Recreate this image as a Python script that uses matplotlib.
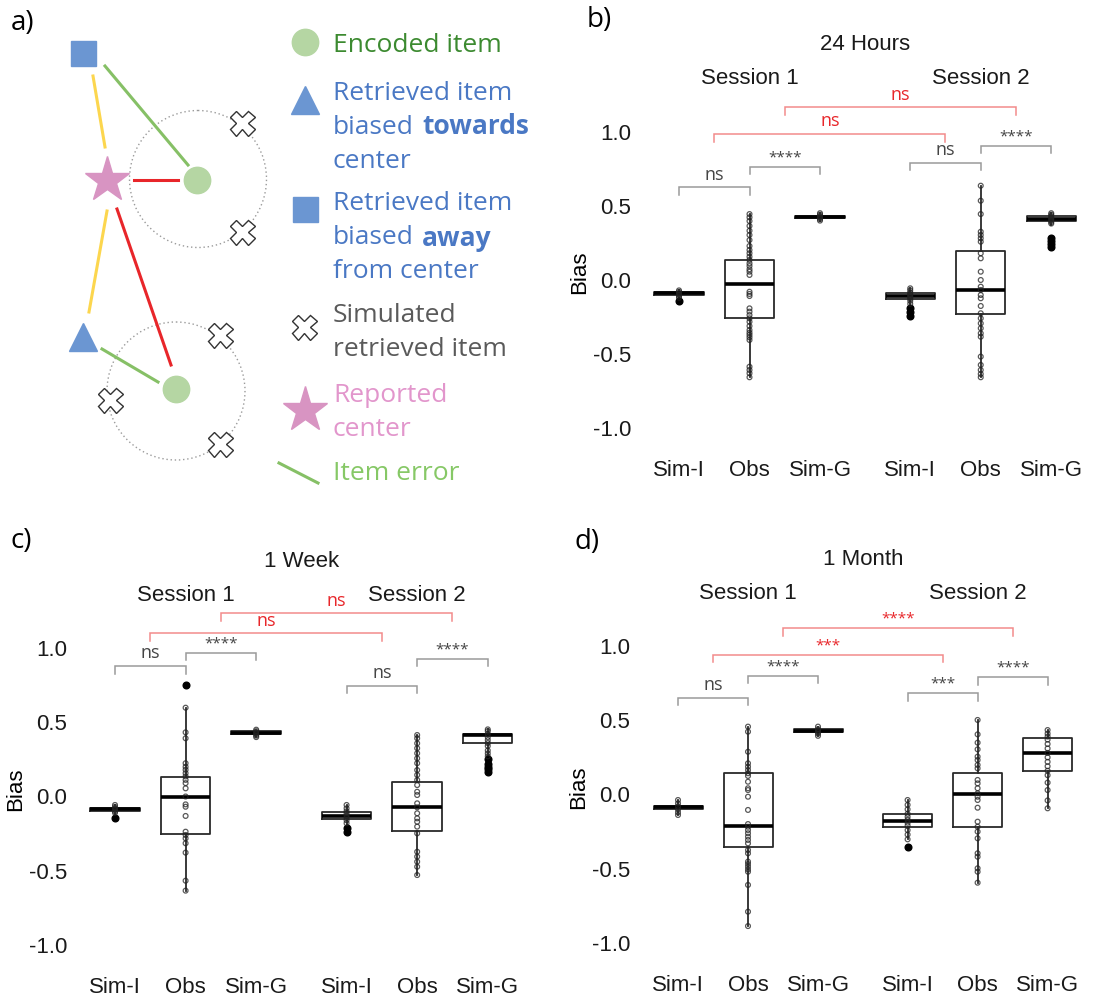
import numpy as np
import matplotlib
matplotlib.use("Agg")
import matplotlib.pyplot as plt
from matplotlib.patches import Circle

W, H = 1115, 999

groups = ["Sim-I", "Obs", "Sim-G", "Sim-I", "Obs", "Sim-G"]
sessions = ["Session 1", "Session 2"]
titles = ["24 Hours", "1 Week", "1 Month"]

# box statistics, order: Sim-I, Obs, Sim-G (session 1), Sim-I, Obs, Sim-G (session 2)
h24_med = [-0.090, -0.027, 0.425, -0.105, -0.067, 0.410]
h24_q1 = [-0.099, -0.258, 0.416, -0.126, -0.231, 0.400]
h24_q3 = [-0.081, 0.135, 0.434, -0.085, 0.197, 0.428]
h24_lo = [-0.120, -0.655, 0.395, -0.160, -0.655, 0.370]
h24_hi = [-0.070, 0.444, 0.450, -0.056, 0.635, 0.450]
h24_out = [[-0.14], [], [], [-0.19, -0.215, -0.24], [], [0.285, 0.26, 0.24, 0.224]]
h24_pts = [
    [-0.07, -0.08, -0.09, -0.10, -0.11, -0.12],
    [0.444, 0.422, 0.397, 0.364, 0.332, 0.303, 0.269, 0.229, 0.202, 0.18, 0.157,
     0.135, 0.112, 0.094, 0.072, 0.056, 0.034, -0.079, -0.094, -0.108, -0.191,
     -0.213, -0.236, -0.258, -0.281, -0.31, -0.337, -0.355, -0.37, -0.386, -0.404,
     -0.584, -0.606, -0.628, -0.655],
    [0.45, 0.44, 0.43, 0.42, 0.41, 0.40],
    [-0.056, -0.07, -0.085, -0.095, -0.105, -0.115, -0.125, -0.14, -0.16],
    [0.635, 0.534, 0.444, 0.325, 0.303, 0.281, 0.258, 0.18, 0.146, 0.056, 0.0,
     -0.045, -0.067, -0.101, -0.123, -0.175, -0.224, -0.258, -0.292, -0.325,
     -0.359, -0.382, -0.516, -0.572, -0.606, -0.633, -0.655],
    [0.45, 0.44, 0.43, 0.42, 0.41, 0.40, 0.39, 0.38],
]

wk_med = [-0.086, -0.005, 0.430, -0.131, -0.069, 0.415]
wk_q1 = [-0.095, -0.253, 0.421, -0.152, -0.232, 0.358]
wk_q3 = [-0.078, 0.133, 0.439, -0.102, 0.095, 0.421]
wk_lo = [-0.120, -0.634, 0.400, -0.190, -0.529, 0.270]
wk_hi = [-0.057, 0.598, 0.450, -0.057, 0.414, 0.452]
wk_out = [[-0.143], [0.751], [], [-0.215, -0.237], [], [0.25, 0.22, 0.2, 0.185, 0.167]]
wk_pts = [
    [-0.057, -0.07, -0.08, -0.09, -0.10, -0.11],
    [0.598, 0.432, 0.392, 0.224, 0.2, 0.18, 0.157, 0.135, 0.112, 0.09, 0.055, 0.0,
     -0.053, -0.069, -0.131, -0.237, -0.259, -0.282, -0.315, -0.378, -0.567, -0.634],
    [0.45, 0.44, 0.43, 0.42, 0.41, 0.40],
    [-0.057, -0.08, -0.10, -0.115, -0.13, -0.145, -0.16, -0.18],
    [0.414, 0.392, 0.358, 0.325, 0.291, 0.257, 0.224, 0.178, 0.145, 0.111, 0.077,
     0.032, 0.01, -0.046, -0.073, -0.113, -0.147, -0.17, -0.203, -0.248, -0.372,
     -0.405, -0.439, -0.473, -0.529],
    [0.452, 0.44, 0.42, 0.40, 0.38, 0.36, 0.34, 0.31, 0.29, 0.27],
]

mo_med = [-0.086, -0.212, 0.430, -0.178, 0.001, 0.281]
mo_q1 = [-0.095, -0.351, 0.421, -0.221, -0.221, 0.158]
mo_q3 = [-0.077, 0.143, 0.439, -0.133, 0.143, 0.378]
mo_lo = [-0.138, -0.886, 0.395, -0.302, -0.594, -0.093]
mo_hi = [-0.037, 0.457, 0.457, -0.037, 0.502, 0.434]
mo_out = [[], [], [], [-0.351], [], []]
mo_pts = [
    [-0.037, -0.06, -0.08, -0.10, -0.12, -0.138],
    [0.457, 0.423, 0.288, 0.21, 0.187, 0.165, 0.143, 0.125, 0.086, 0.042, 0.03,
     -0.015, -0.104, -0.199, -0.217, -0.239, -0.261, -0.284, -0.306, -0.329,
     -0.374, -0.396, -0.452, -0.468, -0.486, -0.504, -0.52, -0.609, -0.789, -0.886],
    [0.457, 0.44, 0.43, 0.42, 0.41, 0.395],
    [-0.037, -0.07, -0.10, -0.13, -0.15, -0.17, -0.19, -0.21, -0.24, -0.27, -0.302],
    [0.502, 0.405, 0.349, 0.304, 0.255, 0.232, 0.199, 0.176, 0.098, 0.075, 0.042,
     0.008, -0.015, -0.037, -0.089, -0.183, -0.217, -0.25, -0.295, -0.396, -0.419,
     -0.497, -0.52, -0.594],
    [0.434, 0.41, 0.39, 0.37, 0.34, 0.31, 0.28, 0.25, 0.22, 0.19, 0.16, 0.13,
     0.08, 0.03, -0.04, -0.093],
]

# significance labels: Sim-I/Obs S1, Obs/Sim-G S1, Sim-I/Obs S2, Obs/Sim-G S2,
# then across sessions (Sim-I/Obs diff, Obs/Sim-G diff)
h24_sig = ["ns", "****", "ns", "****", "ns", "ns"]
wk_sig = ["ns", "****", "ns", "****", "ns", "ns"]
mo_sig = ["ns", "****", "***", "****", "***", "****"]

# ---- layout ----
POS = np.array([0, 1, 2, 3.28, 4.28, 5.28])
XLIM = (-0.6, 5.88)
YLIM = (-1.15, 1.25)
SY = 148.5
BOX_FONT = ["Liberation Sans", "DejaVu Sans"]
SIG_FONT = ["Open Sans", "DejaVu Sans"]

h24_sig_y = [0.624, 0.763, 0.79, 0.905, 0.983, 1.163]
wk_sig_y = [0.879, 0.968, 0.746, 0.928, 1.099, 1.234]
mo_sig_y = [0.652, 0.80, 0.681, 0.789, 0.942, 1.119]


def place(ax, x0, y0, sx):
    left = x0 + XLIM[0] * sx
    right = x0 + XLIM[1] * sx
    top = y0 - YLIM[1] * SY
    bottom = y0 - YLIM[0] * SY
    ax.set_position([left / W, 1 - bottom / H, (right - left) / W, (bottom - top) / H])


def bracket(ax, x1, x2, y, label, red=False):
    lc = "#f28b8b" if red else "#9a9a9a"
    tc = "#e8262a" if red else "#444444"
    tick = 0.052
    ax.plot([x1, x1, x2, x2], [y - tick, y, y, y - tick], color=lc, lw=1.1,
            clip_on=False, solid_joinstyle="miter")
    if label.startswith("*"):
        ax.text((x1 + x2) / 2, y + 0.01, label, ha="center", va="bottom",
                fontsize=11, color=tc, family=SIG_FONT, clip_on=False)
    else:
        ax.text((x1 + x2) / 2, y + 0.025, label, ha="center", va="bottom",
                fontsize=13, color=tc, family=SIG_FONT, clip_on=False)


def box_panel(ax, title, med, q1, q3, lo, hi, out, pts, sig, sig_y):
    stats = []
    for i in range(len(groups)):
        stats.append(dict(med=med[i], q1=q1[i], q3=q3[i], whislo=lo[i],
                          whishi=hi[i], fliers=out[i]))
    ax.bxp(stats, positions=POS, widths=0.7, showcaps=False,
           boxprops=dict(color="#2a2a2a", lw=1.3),
           whiskerprops=dict(color="#2a2a2a", lw=1.3),
           medianprops=dict(color="black", lw=2.6),
           flierprops=dict(marker="o", markerfacecolor="black",
                           markeredgecolor="black", markersize=4.8))
    for i, p in enumerate(pts):
        ax.scatter(np.full(len(p), POS[i]), p, s=12, facecolors="none",
                   edgecolors="#222222", linewidths=0.9, alpha=0.75, zorder=3)

    ax.set_xlim(*XLIM)
    ax.set_ylim(*YLIM)
    ax.set_xticks(POS)
    ax.set_xticklabels(groups, family=BOX_FONT, fontsize=16, color="#1a1a1a")
    ax.set_yticks([-1.0, -0.5, 0.0, 0.5, 1.0])
    ax.set_yticklabels(["-1.0", "-0.5", "0.0", "0.5", "1.0"], family=BOX_FONT,
                       fontsize=16, color="#1a1a1a")
    ax.tick_params(length=0, pad=4)
    ax.tick_params(axis="x", pad=7)
    for s in ax.spines.values():
        s.set_visible(False)
    ax.set_ylabel("Bias", family=BOX_FONT, fontsize=16, labelpad=2)

    pair = [(0, 1), (1, 2), (3, 4), (4, 5)]
    for k, (a, b) in enumerate(pair):
        bracket(ax, POS[a], POS[b], sig_y[k], sig[k])
    mid = [(POS[0] + POS[1]) / 2, (POS[1] + POS[2]) / 2,
           (POS[3] + POS[4]) / 2, (POS[4] + POS[5]) / 2]
    bracket(ax, mid[0], mid[2], sig_y[4], sig[4], red=True)
    bracket(ax, mid[1], mid[3], sig_y[5], sig[5], red=True)

    ax.text(POS[1], 1.355, sessions[0], ha="center", va="center", fontsize=16,
            family=BOX_FONT, color="#1a1a1a", clip_on=False)
    ax.text(POS[4], 1.355, sessions[1], ha="center", va="center", fontsize=16,
            family=BOX_FONT, color="#1a1a1a", clip_on=False)
    ax.text(np.mean(XLIM), 1.585, title, ha="center", va="center", fontsize=16,
            family=BOX_FONT, color="#1a1a1a", clip_on=False)


fig = plt.figure(figsize=(W / 100, H / 100), dpi=100)

# ---- panel a: schematic ----
axa = fig.add_axes([0, 1 - 500 / H, 540 / W, 500 / H])
axa.set_xlim(0, 540)
axa.set_ylim(500, 0)
axa.axis("off")

GREEN_LINE = "#86c066"
YELLOW = "#fcd64e"
RED = "#e8262a"
BLUE = "#6b96d2"
GREEN_DOT = "#b5d6a3"
PINK = "#d894c2"

axa.add_patch(Circle((198, 179), 68.5, fill=False, ls=(0, (1, 2)), lw=1.0, ec="#9a9a9a"))
axa.add_patch(Circle((176, 391), 69, fill=False, ls=(0, (1, 2)), lw=1.0, ec="#9a9a9a"))

axa.plot([105, 188], [66, 165], color=GREEN_LINE, lw=2.2)
axa.plot([93, 105], [76, 147], color=YELLOW, lw=2.2)
axa.plot([134, 178], [180, 180], color=RED, lw=2.2)
axa.plot([107, 89], [211, 312], color=YELLOW, lw=2.2)
axa.plot([117, 171], [209, 365], color=RED, lw=2.2)
axa.plot([102, 158], [349, 382], color=GREEN_LINE, lw=2.2)

axa.plot(83, 53, "s", ms=18, color=BLUE)
axa.plot(83, 337, "^", ms=20, color=BLUE)
axa.plot(107, 180, "*", ms=34, color=PINK, mec=PINK)
axa.plot(197, 180, "o", ms=19, color=GREEN_DOT)
axa.plot(176, 389, "o", ms=19, color=GREEN_DOT)
for xx, yy in [(242, 123), (242, 232), (220, 335), (110, 400), (220, 444)]:
    axa.plot(xx, yy, "X", ms=18, mfc="white", mec="#333333", mew=1.0)

# legend column
axa.plot(305, 42, "o", ms=19, color=GREEN_DOT)
axa.plot(305, 100, "^", ms=20, color=BLUE)
axa.plot(305, 209, "s", ms=18, color=BLUE)
axa.plot(304, 327, "X", ms=18, mfc="white", mec="#333333", mew=1.0)
axa.plot(305, 410, "*", ms=34, color=PINK, mec=PINK)
axa.plot([279, 318], [463, 483], color=GREEN_LINE, lw=2.2)

LEG_FONT = ["Open Sans", "DejaVu Sans"]
LFS = 19


def ltxt(x, y, s, c, bold=False):
    axa.text(x, y, s, color=c, fontsize=LFS, family=LEG_FONT, va="center", ha="left",
             fontweight="bold" if bold else "normal")


ltxt(333, 45, "Encoded item", "#3c8a30")
ltxt(333, 93, "Retrieved item", "#4a78c4")
ltxt(333, 127, "biased", "#4a78c4")
ltxt(422, 127, "towards", "#4a78c4", bold=True)
ltxt(333, 162, "center", "#4a78c4")
ltxt(333, 203, "Retrieved item", "#4a78c4")
ltxt(333, 238, "biased", "#4a78c4")
ltxt(422, 238, "away", "#4a78c4", bold=True)
ltxt(333, 272, "from center", "#4a78c4")
ltxt(333, 315, "Simulated", "#5a5a5a")
ltxt(333, 350, "retrieved item", "#5a5a5a")
ltxt(333, 395, "Reported", "#e296cc")
ltxt(333, 429, "center", "#e296cc")
ltxt(333, 473, "Item error", "#86c866")

# ---- panels b, c, d ----
axb = fig.add_axes([0, 0, 1, 1])
place(axb, 679, 280, 70.5)
box_panel(axb, titles[0], h24_med, h24_q1, h24_q3, h24_lo, h24_hi, h24_out, h24_pts,
          h24_sig, h24_sig_y)

axc = fig.add_axes([0, 0, 1, 1])
place(axc, 115, 796.5, 70.6)
box_panel(axc, titles[1], wk_med, wk_q1, wk_q3, wk_lo, wk_hi, wk_out, wk_pts,
          wk_sig, wk_sig_y)

axd = fig.add_axes([0, 0, 1, 1])
place(axd, 678, 794.5, 70.0)
box_panel(axd, titles[2], mo_med, mo_q1, mo_q3, mo_lo, mo_hi, mo_out, mo_pts,
          mo_sig, mo_sig_y)

for lab, x, y in [("a)", 11, 23), ("b)", 587, 20), ("c)", 11, 541), ("d)", 575, 542)]:
    fig.text(x / W, 1 - y / H, lab, fontsize=20, family=LEG_FONT, va="center", ha="left")

fig.savefig("out.png", dpi=100, facecolor="white")
